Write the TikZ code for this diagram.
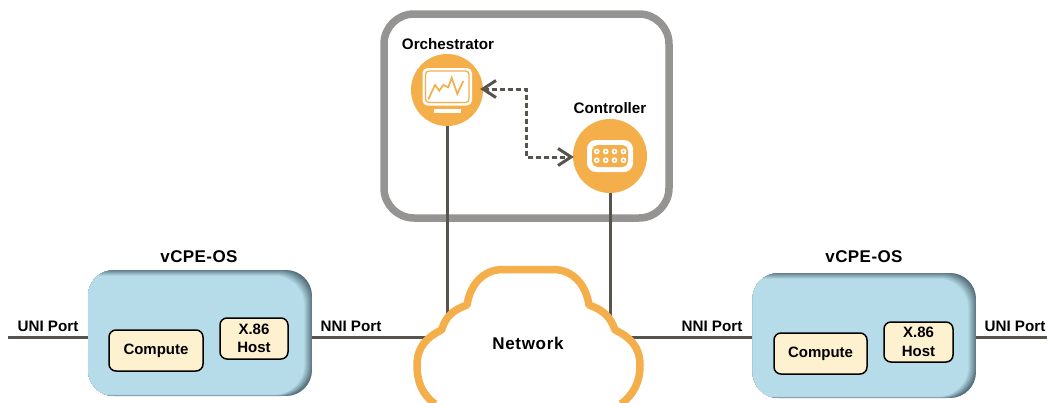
\documentclass[tikz,border=0pt]{standalone}
\usepackage{fontspec}
\setmainfont{Liberation Sans}
\usetikzlibrary{arrows.meta,calc}
\definecolor{wire}{HTML}{57534F}
\definecolor{amber}{HTML}{F4AE4A}
\definecolor{framegray}{HTML}{959492}
\definecolor{boxblue}{HTML}{B5DCE8}
\definecolor{boxdark}{HTML}{56707C}
\definecolor{cream}{HTML}{FDF1D0}
\tikzset{
  lbl/.style={font=\fontsize{15.2}{18}\selectfont\bfseries,text=black,inner sep=0pt,align=center},
  lblwide/.style={font=\fontsize{17}{18}\selectfont\bfseries\addfontfeature{LetterSpace=2.5},text=black,inner sep=0pt},
  lblnet/.style={font=\fontsize{17}{18}\selectfont\bfseries\addfontfeature{LetterSpace=4},text=black,inner sep=0pt},
  wireline/.style={draw=wire,line width=3pt},
  hub/.style={circle,fill=amber,inner sep=0pt},
  inner/.style={draw=black,line width=1.5pt,fill=cream,rounded corners=7pt,inner sep=0pt,
    font=\fontsize{15}{18.5}\selectfont\bfseries,align=center},
  cpe/.style={rectangle,inner sep=0pt},
  duplex/.style={draw=wire,line width=3pt,dash pattern=on 5pt off 3pt,
    {Straight Barb[length=13pt,width=17pt,line width=3pt]}-{Straight Barb[length=13pt,width=17pt,line width=3pt]}},
}
\newcommand{\cpeshade}[4]{%
  \begin{scope}
    \clip[rounded corners=26pt] (#1,#2) rectangle (#3,#4);
    \fill[boxdark] (#1,#2) rectangle (#3,#4);
    \foreach \k in {0,...,12}{
      \pgfmathtruncatemacro{\pct}{10+\k*90/12}
      \fill[boxblue!\pct!boxdark,rounded corners=30pt]
        ({#1-20},{#2+0.48*\k}) rectangle ({#3-0.65*\k},{#4-0.12*\k});
    }
  \end{scope}}
\begin{document}
\begin{tikzpicture}[x=1pt,y=-1pt]
\useasboundingbox (0,0) rectangle (1047,402);
\clip (0,0) rectangle (1047,402);
\fill[white] (0,0) rectangle (1047,402);

% management frame
\draw[framegray,line width=7.5pt,rounded corners=30pt] (384,14) rectangle (669,218);

% blue boxes
\cpeshade{88}{270}{312}{396}
\cpeshade{752.5}{273}{976}{398}
\node[cpe,minimum width=224pt,minimum height=126pt] (lbox) at (200,333) {};
\node[cpe,minimum width=223.5pt,minimum height=125pt] (rbox) at (864.25,335.5) {};

% hubs
\node[hub,minimum size=72pt] (orch) at (447,90) {};
\node[hub,minimum size=74pt] (ctrl) at (610,156) {};

% reference points
\coordinate (netcore) at (528,343);
\coordinate (uniL) at (8,337);
\coordinate (uniR) at (1047,337);
\coordinate (netup) at (528,320);

% connectors
\draw[wireline] (orch.south) -- (orch.south |- netup);
\draw[wireline] (ctrl.south) -- (ctrl.south |- netup);
\draw[wireline] (uniL) -- (lbox.west |- uniL);
\draw[wireline] (lbox.east |- uniL) -- (netcore |- uniL);
\draw[wireline] (netcore |- uniR) -- (rbox.west |- uniR);
\draw[wireline] (rbox.east |- uniR) -- (uniR);
\draw[duplex] (orch.east) ++(-3,-1) -- ++(46.5,0) coordinate (mid) |- ([xshift=1pt,yshift=-1pt]ctrl.west);

% cloud
\draw[amber,fill=white,line width=7.5pt,line join=round]
  (435,404) .. controls (422,394) and (417,382) .. (417,365)
  .. controls (417,347) and (427,337) .. (441.5,330)
  .. controls (446,316) and (453,310) .. (467,305)
  .. controls (470,285) and (483,269.5) .. (503,269.5)
  -- (553,269.5)
  .. controls (573,269.5) and (586,285) .. (589,305)
  .. controls (603,310) and (610,316) .. (615,330)
  .. controls (630,337) and (640,347) .. (640,365)
  .. controls (640,382) and (634,394) .. (621,404);

% orchestrator icon
\fill[white,rounded corners=5pt] (422.5,68) rectangle (472,105.5);
\draw[amber,line width=1.3pt,rounded corners=3.5pt] (425.5,71) rectangle (469,102.5);
\draw[amber,line width=1.7pt,line join=miter] (428.3,99.3) -- (435,85) -- (439.3,90.7) -- (443.3,85) -- (448.3,87.3) -- (451.7,77.7) -- (457.3,94) -- (463.3,81);
\fill[white] (434,109) rectangle (461,113);

% controller icon
\fill[white,rounded corners=9pt] (587,140) rectangle (633,172);
\fill[amber,rounded corners=5.5pt] (592,145) rectangle (628,167);
\foreach \cx in {596.7,605.7,614.5,623.5}
  \foreach \cy in {151.5,160.2}{
    \fill[white] (\cx,\cy) circle (2.9pt);
    \fill[amber] (\cx,\cy) circle (1.1pt);
  }

% inner boxes
\node[inner,minimum width=94pt,minimum height=41pt] (lcomp) at (156,350.5) {Compute};
\node[inner,minimum width=68pt,minimum height=41pt] (lhost) at (254,338.5) {X.86\\Host};
\node[inner,minimum width=93pt,minimum height=41pt] (rcomp) at (820.5,353.5) {Compute};
\node[inner,minimum width=69pt,minimum height=40pt] (rhost) at (918.5,342) {X.86\\Host};

% labels
\node[lbl] (orchlbl) at (448,44) {Orchestrator};
\node[lbl] (ctrllbl) at (610,108) {Controller};
\node[lblnet] (netlbl) at (netcore) {Network};
\node[lblwide] (ltitle) at (199,257) {vCPE-OS};
\node[lblwide] (rtitle) at (864,257) {vCPE-OS};
\node[lbl] (luni) at (48,326) {UNI Port};
\node[lbl] (lnni) at (351,326) {NNI Port};
\node[lbl] (rnni) at (712,326) {NNI Port};
\node[lbl] (runi) at (1015,326) {UNI Port};
\end{tikzpicture}
\end{document}
